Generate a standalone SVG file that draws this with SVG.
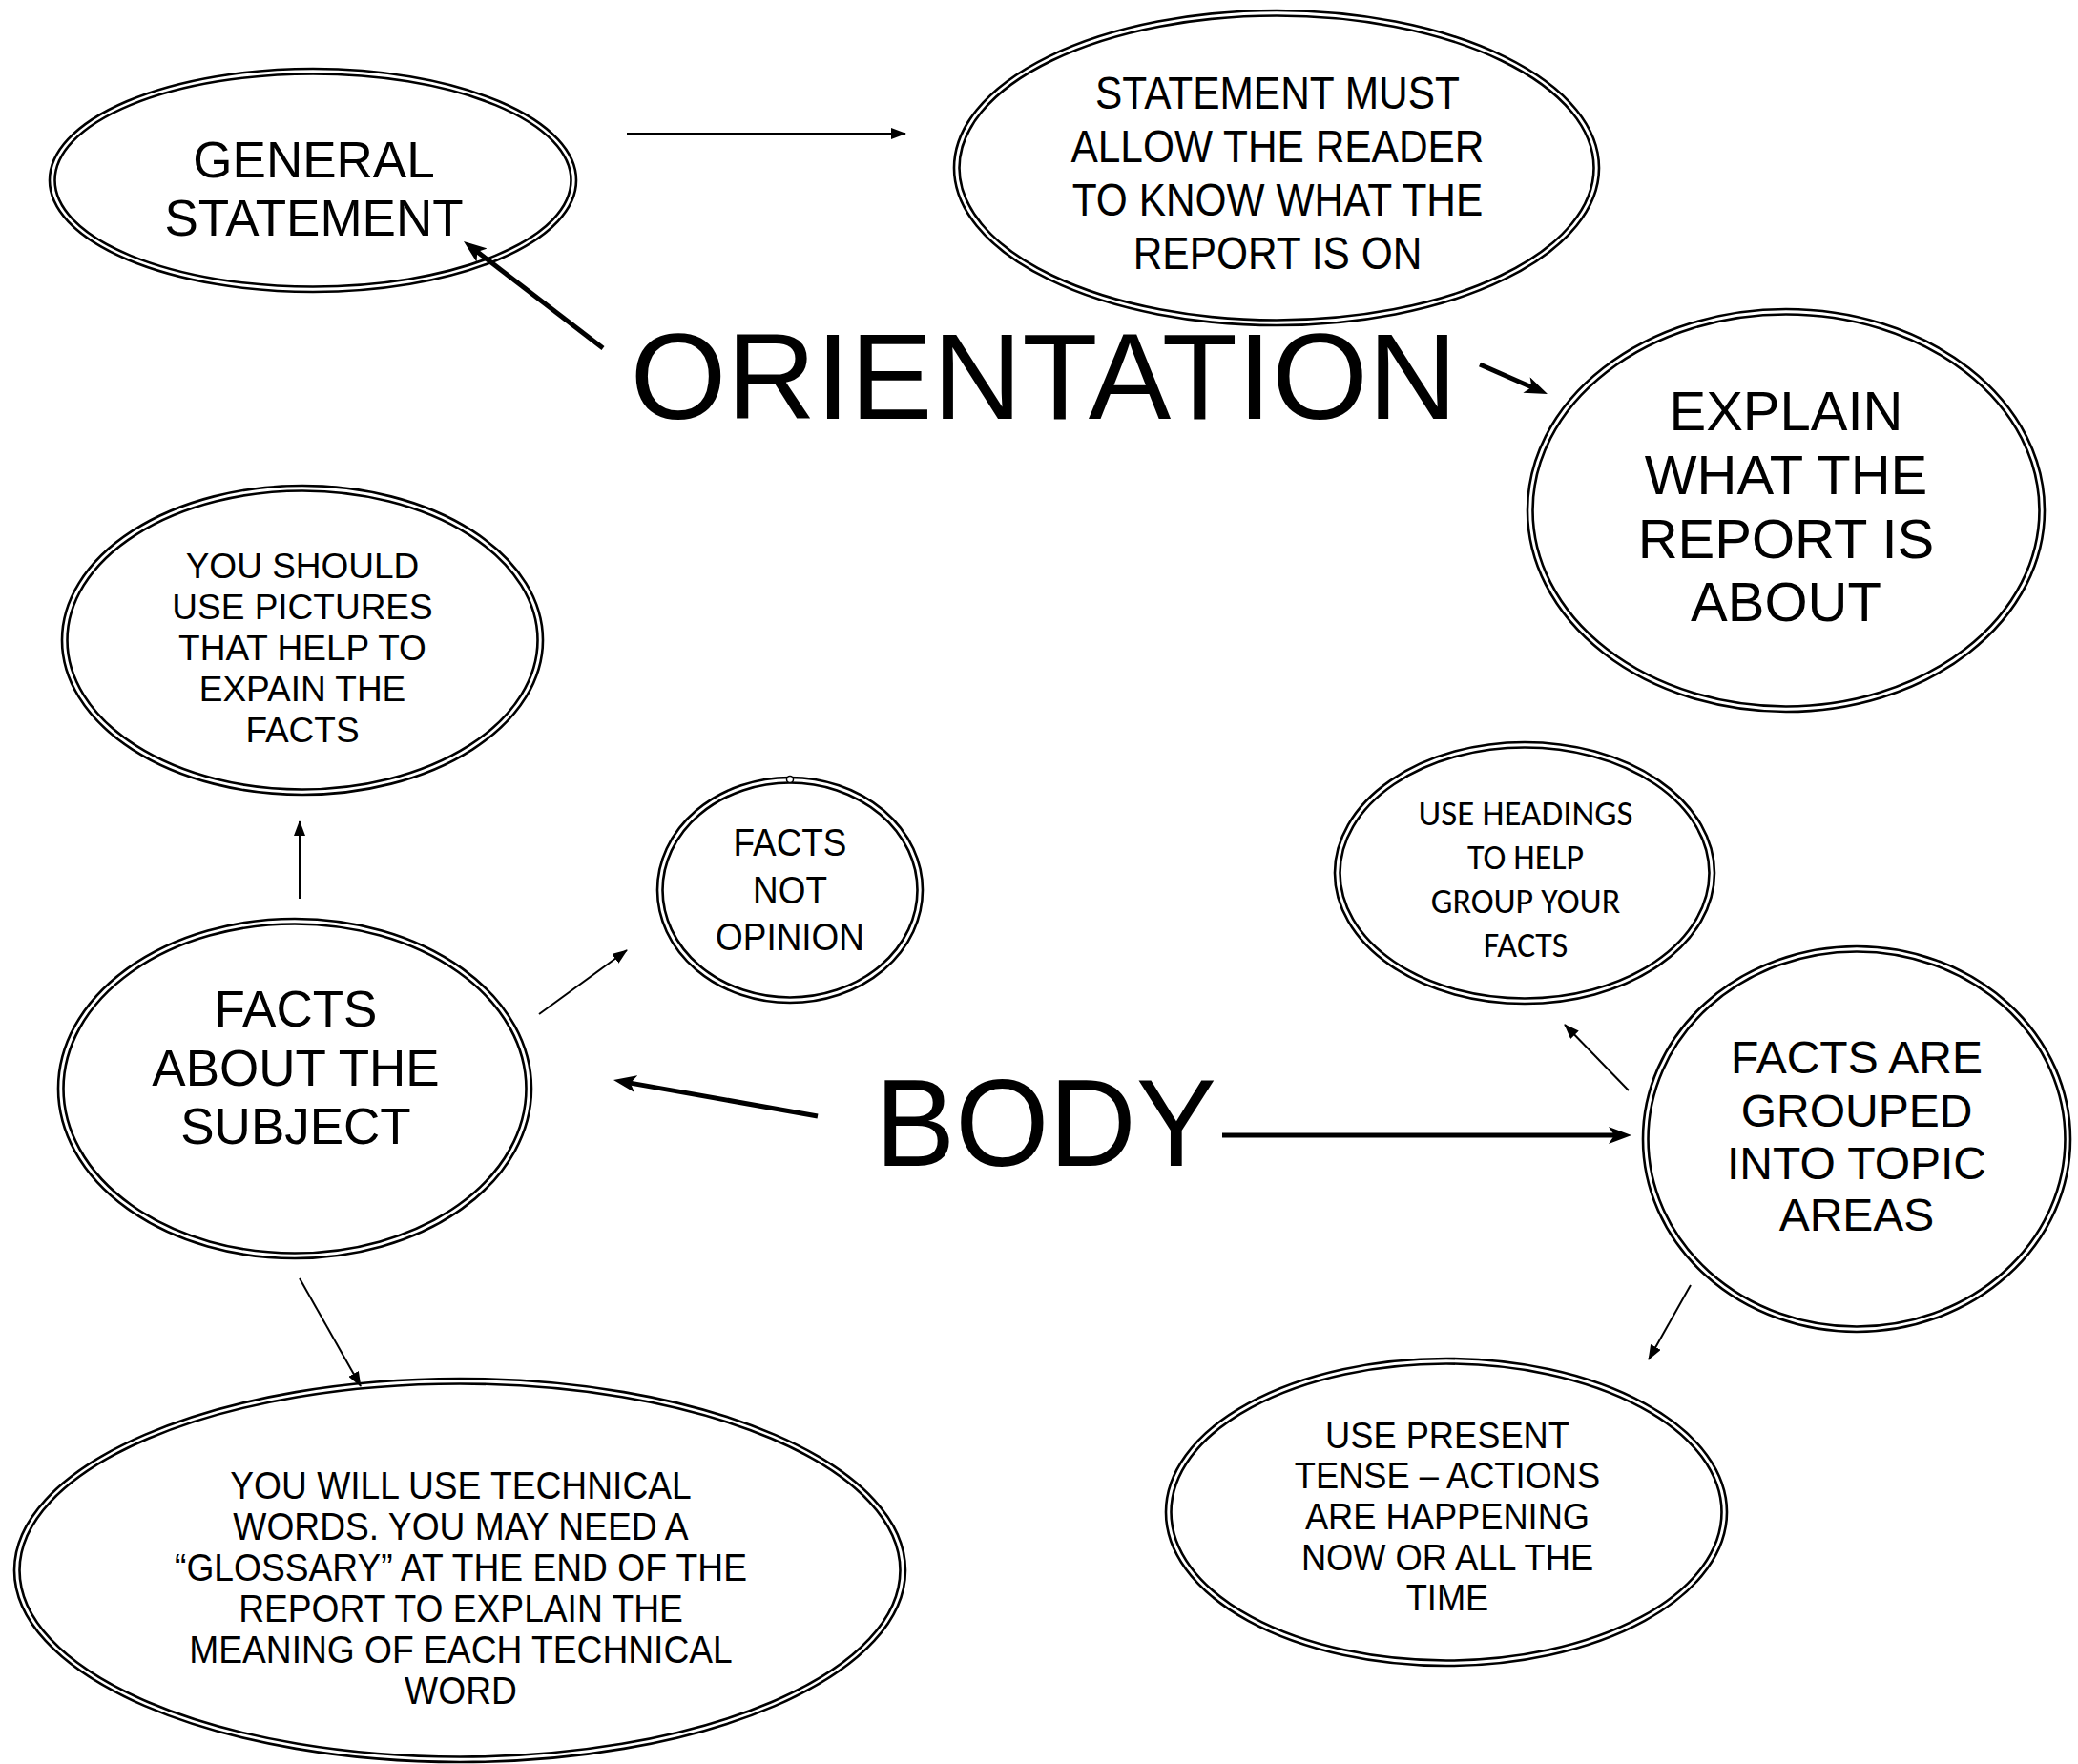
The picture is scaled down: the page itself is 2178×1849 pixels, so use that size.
<svg xmlns="http://www.w3.org/2000/svg" width="2178" height="1849" viewBox="0 0 2178 1849">
<style>
.o{fill:#fff;stroke:#000;stroke-width:2.6}
.i{fill:none;stroke:#000;stroke-width:2.6}
text{font-family:"Liberation Sans",Arial,sans-serif;fill:#000;text-anchor:middle}
.cal{font-family:Carlito,Lato,"Liberation Sans",sans-serif}
.thin{stroke:#000;stroke-width:2;fill:none;marker-end:url(#ah)}
.thick{stroke:#000;stroke-width:5;fill:none;marker-end:url(#ahb)}
</style>
<defs>
<marker id="ah" markerUnits="userSpaceOnUse" markerWidth="16" markerHeight="12" refX="15" refY="6" orient="auto"><path d="M0,0 L16,6 L0,12 z" fill="#000"/></marker>
<marker id="ahb" markerUnits="userSpaceOnUse" markerWidth="24" markerHeight="18" refX="12" refY="9" orient="auto"><path d="M0,0 L24,9 L0,18 L6,9 z" fill="#000"/></marker>
</defs>
<rect width="2178" height="1849" fill="#fff"/>

<g id="general-statement">
<ellipse class="o" cx="328" cy="189" rx="276" ry="117"/>
<ellipse class="i" cx="328" cy="189" rx="270.5" ry="111.5"/>
<text font-size="53"><tspan x="329" y="186">GENERAL</tspan><tspan x="329" y="247">STATEMENT</tspan></text>
</g>

<g id="statement-must">
<ellipse class="o" cx="1338" cy="176" rx="338" ry="165"/>
<ellipse class="i" cx="1338" cy="176" rx="332.5" ry="159.5"/>
<text font-size="49" transform="translate(1339,0) scale(0.866,1) translate(-1339,0)"><tspan x="1339" y="114">STATEMENT MUST</tspan><tspan x="1339" y="170">ALLOW THE READER</tspan><tspan x="1339" y="226">TO KNOW WHAT THE</tspan><tspan x="1339" y="282">REPORT IS ON</tspan></text>
</g>

<g id="orientation">
<text font-size="128" x="1094" y="439" textLength="867" lengthAdjust="spacingAndGlyphs">ORIENTATION</text>
</g>

<g id="explain">
<ellipse class="o" cx="1872" cy="535" rx="271" ry="211"/>
<ellipse class="i" cx="1872" cy="535" rx="265.5" ry="205.5"/>
<text font-size="58"><tspan x="1872" y="451">EXPLAIN</tspan><tspan x="1872" y="518">WHAT THE</tspan><tspan x="1872" y="585">REPORT IS</tspan><tspan x="1872" y="651">ABOUT</tspan></text>
</g>

<g id="you-should">
<ellipse class="o" cx="317" cy="671" rx="252" ry="162"/>
<ellipse class="i" cx="317" cy="671" rx="246.5" ry="156.5"/>
<text font-size="37"><tspan x="317" y="606">YOU SHOULD</tspan><tspan x="317" y="649">USE PICTURES</tspan><tspan x="317" y="692">THAT HELP TO</tspan><tspan x="317" y="735">EXPAIN THE</tspan><tspan x="317" y="778">FACTS</tspan></text>
</g>

<g id="facts-not-opinion">
<ellipse class="o" cx="828" cy="933" rx="139" ry="118"/>
<ellipse class="i" cx="828" cy="933" rx="133.5" ry="112.5"/>
<circle cx="828" cy="817" r="3.5" fill="#fff" stroke="#000" stroke-width="1.5"/>
<text font-size="41" transform="translate(828,0) scale(0.9,1) translate(-828,0)"><tspan x="828" y="897">FACTS</tspan><tspan x="828" y="947">NOT</tspan><tspan x="828" y="996">OPINION</tspan></text>
</g>

<g id="facts-about">
<ellipse class="o" cx="309" cy="1141" rx="248" ry="178"/>
<ellipse class="i" cx="309" cy="1141" rx="242.5" ry="172.5"/>
<text font-size="53"><tspan x="310" y="1076">FACTS</tspan><tspan x="310" y="1138">ABOUT THE</tspan><tspan x="310" y="1199">SUBJECT</tspan></text>
</g>

<g id="body">
<text font-size="130" x="1096" y="1222" textLength="358" lengthAdjust="spacingAndGlyphs">BODY</text>
</g>

<g id="use-headings">
<ellipse class="o" cx="1598" cy="915" rx="199" ry="137"/>
<ellipse class="i" cx="1598" cy="915" rx="193.5" ry="131.5"/>
<text class="cal" font-size="36"><tspan x="1599" y="865" textLength="225" lengthAdjust="spacingAndGlyphs">USE HEADINGS</tspan><tspan x="1599" y="911">TO HELP</tspan><tspan x="1599" y="957">GROUP YOUR</tspan><tspan x="1599" y="1003">FACTS</tspan></text>
</g>

<g id="facts-are">
<ellipse class="o" cx="1946" cy="1194" rx="224" ry="202"/>
<ellipse class="i" cx="1946" cy="1194" rx="218.5" ry="196.5"/>
<text font-size="48"><tspan x="1946" y="1125">FACTS ARE</tspan><tspan x="1946" y="1181">GROUPED</tspan><tspan x="1946" y="1236">INTO TOPIC</tspan><tspan x="1946" y="1290">AREAS</tspan></text>
</g>

<g id="use-present">
<ellipse class="o" cx="1516" cy="1585" rx="294" ry="161"/>
<ellipse class="i" cx="1516" cy="1585" rx="288.5" ry="155.5"/>
<text font-size="39" transform="translate(1517,0) scale(0.93,1) translate(-1517,0)"><tspan x="1517" y="1518">USE PRESENT</tspan><tspan x="1517" y="1560">TENSE – ACTIONS</tspan><tspan x="1517" y="1603">ARE HAPPENING</tspan><tspan x="1517" y="1646">NOW OR ALL THE</tspan><tspan x="1517" y="1688">TIME</tspan></text>
</g>

<g id="technical-words">
<ellipse class="o" cx="482" cy="1646" rx="467" ry="201"/>
<ellipse class="i" cx="482" cy="1646" rx="461.5" ry="195.5"/>
<text font-size="40" transform="translate(483,0) scale(0.93,1) translate(-483,0)"><tspan x="483" y="1571">YOU WILL USE TECHNICAL</tspan><tspan x="483" y="1614">WORDS. YOU MAY NEED A</tspan><tspan x="483" y="1657">“GLOSSARY” AT THE END OF THE</tspan><tspan x="483" y="1700">REPORT TO EXPLAIN THE</tspan><tspan x="483" y="1743">MEANING OF EACH TECHNICAL</tspan><tspan x="483" y="1786">WORD</tspan></text>
</g>

<g id="connectors">
<line class="thin" x1="657" y1="140" x2="949" y2="140"/>
<line class="thick" x1="632" y1="365" x2="495.5" y2="260.3"/>
<line class="thick" x1="1551" y1="382" x2="1611" y2="408.2"/>
<line class="thin" x1="314" y1="942" x2="314" y2="861"/>
<line class="thin" x1="565" y1="1063" x2="657" y2="996"/>
<line class="thick" x1="857" y1="1170" x2="654.8" y2="1134.1"/>
<line class="thick" x1="1281" y1="1190" x2="1698" y2="1190"/>
<line class="thin" x1="1707" y1="1143" x2="1640" y2="1074"/>
<line class="thin" x1="1772" y1="1347" x2="1728" y2="1425"/>
<line class="thin" x1="314" y1="1340" x2="378" y2="1453"/>
</g>
</svg>
